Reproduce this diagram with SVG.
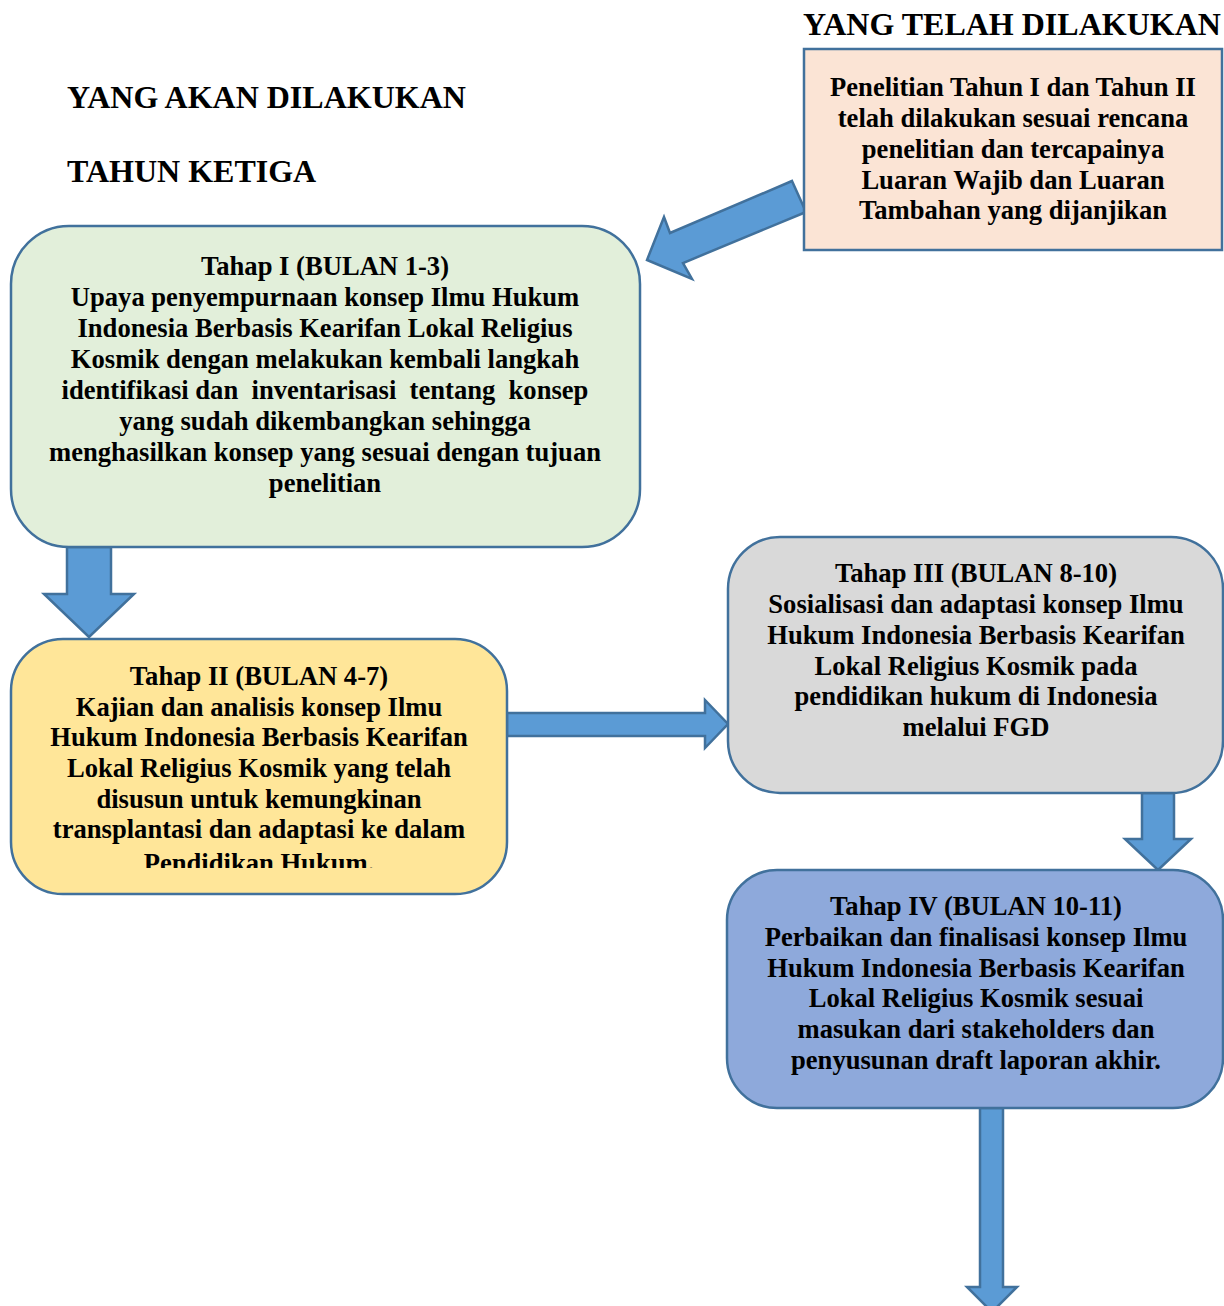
<svg xmlns="http://www.w3.org/2000/svg" width="1224" height="1306" viewBox="0 0 1224 1306">
  <style>
    .title { font-family: "Liberation Serif", "Times New Roman", serif; font-weight: bold; font-size: 32px; fill: #000; }
    .body { font-family: "Liberation Serif", "Times New Roman", serif; font-weight: bold; font-size: 26.6px; fill: #000; text-anchor: middle; }
    .box { stroke: #41719C; stroke-width: 2.5; }
    .arrow { fill: #5B9BD5; stroke: #41719C; stroke-width: 2.5; stroke-linejoin: miter; }
  </style>
  <defs>
    <clipPath id="clip-tahap2">
      <rect x="11" y="639" width="496" height="229"/>
    </clipPath>
  </defs>
  <rect width="1224" height="1306" fill="#fff"/>

  <!-- headings -->
  <text class="title" x="803" y="35">YANG TELAH DILAKUKAN</text>
  <text class="title" x="67" y="108">YANG AKAN DILAKUKAN</text>
  <text class="title" x="67" y="182">TAHUN KETIGA</text>

  <!-- connectors -->
  <g id="connectors">
    <polygon class="arrow" points="792,181 806,212 683,263 692,279 647,260 664,217 670,233"/>
    <polygon class="arrow" points="67,547 111,547 111,594 134,594 89,637 44,594 67,594"/>
    <polygon class="arrow" points="507,713 705,713 705,700 728,724 705,748 705,736 507,736"/>
    <polygon class="arrow" points="1142,793 1174,793 1174,839 1191,839 1158,870 1125,839 1142,839"/>
    <polygon class="arrow" points="980,1108 1003,1108 1003,1287 1017,1287 992,1312 967,1287 980,1287"/>
  </g>

  <!-- completed work -->
  <g id="node-done">
    <rect class="box" x="804" y="49" width="418" height="201" fill="#FBE4D5"/>
    <text class="body" x="1013" y="96">Penelitian Tahun I dan Tahun II</text>
    <text class="body" x="1013" y="127">telah dilakukan sesuai rencana</text>
    <text class="body" x="1013" y="158">penelitian dan tercapainya</text>
    <text class="body" x="1013" y="189">Luaran Wajib dan Luaran</text>
    <text class="body" x="1013" y="219">Tambahan yang dijanjikan</text>
  </g>

  <!-- stage I -->
  <g id="node-tahap1">
    <rect class="box" x="11" y="226" width="629" height="321" rx="58" fill="#E2EFDA"/>
    <text class="body" x="325" y="275">Tahap I (BULAN 1-3)</text>
    <text class="body" x="325" y="306">Upaya penyempurnaan konsep Ilmu Hukum</text>
    <text class="body" x="325" y="337">Indonesia Berbasis Kearifan Lokal Religius</text>
    <text class="body" x="325" y="368">Kosmik dengan melakukan kembali langkah</text>
    <text class="body" x="325" y="399" xml:space="preserve">identifikasi dan  inventarisasi  tentang  konsep</text>
    <text class="body" x="325" y="430">yang sudah dikembangkan sehingga</text>
    <text class="body" x="325" y="461">menghasilkan konsep yang sesuai dengan tujuan</text>
    <text class="body" x="325" y="492">penelitian</text>
  </g>

  <!-- stage II: last line is cut off by the text frame -->
  <g id="node-tahap2">
    <rect class="box" x="11" y="639" width="496" height="255" rx="52" fill="#FFE699"/>
    <g clip-path="url(#clip-tahap2)">
      <text class="body" x="259" y="685">Tahap II (BULAN 4-7)</text>
      <text class="body" x="259" y="716">Kajian dan analisis konsep Ilmu</text>
      <text class="body" x="259" y="746">Hukum Indonesia Berbasis Kearifan</text>
      <text class="body" x="259" y="777">Lokal Religius Kosmik yang telah</text>
      <text class="body" x="259" y="808">disusun untuk kemungkinan</text>
      <text class="body" x="259" y="838">transplantasi dan adaptasi ke dalam</text>
      <text class="body" x="259" y="872">Pendidikan Hukum.</text>
    </g>
  </g>

  <!-- stage III -->
  <g id="node-tahap3">
    <rect class="box" x="728" y="537" width="495" height="256" rx="52" fill="#D9D9D9"/>
    <text class="body" x="976" y="582">Tahap III (BULAN 8-10)</text>
    <text class="body" x="976" y="613">Sosialisasi dan adaptasi konsep Ilmu</text>
    <text class="body" x="976" y="644">Hukum Indonesia Berbasis Kearifan</text>
    <text class="body" x="976" y="675">Lokal Religius Kosmik pada</text>
    <text class="body" x="976" y="705">pendidikan hukum di Indonesia</text>
    <text class="body" x="976" y="736">melalui FGD</text>
  </g>

  <!-- stage IV -->
  <g id="node-tahap4">
    <rect class="box" x="727" y="870" width="496" height="238" rx="50" fill="#8EA9DB"/>
    <text class="body" x="976" y="915">Tahap IV (BULAN 10-11)</text>
    <text class="body" x="976" y="946">Perbaikan dan finalisasi konsep Ilmu</text>
    <text class="body" x="976" y="977">Hukum Indonesia Berbasis Kearifan</text>
    <text class="body" x="976" y="1007">Lokal Religius Kosmik sesuai</text>
    <text class="body" x="976" y="1038">masukan dari stakeholders dan</text>
    <text class="body" x="976" y="1069">penyusunan draft laporan akhir.</text>
  </g>
</svg>
